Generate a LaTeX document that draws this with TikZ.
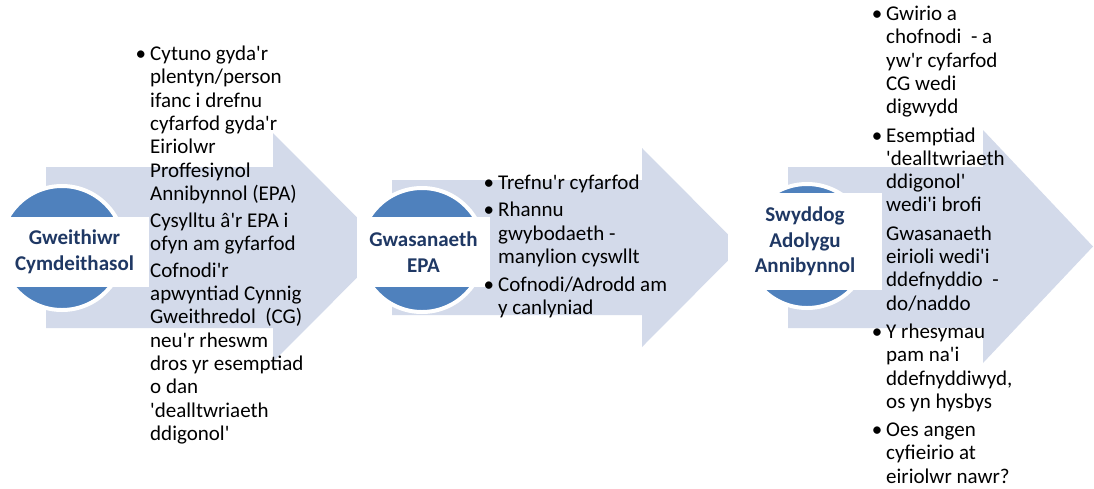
\documentclass[tikz,border=0pt]{standalone}
\usepackage{fontspec}
\setmainfont{Carlito}[Ligatures=TeXOff]

\definecolor{arrowfill}{HTML}{D3DAEA}
\definecolor{discblue}{HTML}{4F81BD}
\definecolor{labelnavy}{HTML}{1F3864}
\newcommand{\bul}{\llap{\textbullet\hspace{4pt}}}

\begin{document}
\begin{tikzpicture}[x=1pt, y=-1pt,
  disc/.style={circle, fill=discblue, draw=white, line width=4pt,
    minimum size=124pt, inner sep=0pt},
  labelbox/.style={fill=white, inner sep=0pt, align=center, text=labelnavy,
    font=\fontsize{21}{25.5}\selectfont\bfseries},
  notes/.style={anchor=north west, inner sep=0pt, align=left,
    font=\fontsize{21}{23.3}\selectfont}]

  \useasboundingbox (0,0) rectangle (1094,488);

  % Draw block arrows
  \foreach \xs/\xh/\st/\sb/\ht/\hb/\tip in {46/273/167/328/133/362/387,
      392/642/180/315/148/347/741, 788/983/167/328/130/363/1093} {
    \fill[arrowfill] (\xs,\st) -- (\xh,\st) -- (\xh,\ht)
      -- (\tip,{(\ht+\hb)/2}) -- (\xh,\hb) -- (\xh,\sb) -- (\xs,\sb) -- cycle;
  }

  % Draw discs
  \node[disc] (swdisc) at (62,248) {};
  \node[disc] (epadisc) at (422,250) {};
  \node[disc] (saadisc) at (807,246) {};

  % Disc labels
  \node[labelbox, minimum width=149pt, minimum height=70pt] (swlabel)
    at (74.5,252) {Gweithiwr\\Cymdeithasol};
  \node[labelbox, minimum width=133pt, minimum height=70pt] (epalabel)
    at (423.5,252) {Gwasanaeth\\EPA};
  \node[labelbox, minimum width=154pt, minimum height=97pt] (saalabel)
    at (805,241.5) {Swyddog\\Adolygu\\Annibynnol};

  % Notes
  \node[notes] (swnotes) at (150,44) {\strut\bul Cytuno gyda'r\\
    plentyn/person\\ ifanc i drefnu\\ cyfarfod gyda'r\\ Eiriolwr\\
    Proffesiynol\\ Annibynnol (EPA)\\[3.5pt]
    Cysylltu â'r EPA i\\ ofyn am gyfarfod\\[3.5pt]
    Cofnodi'r\\ apwyntiad Cynnig\\ Gweithredol \ (CG)\\ neu'r rheswm\\
    dros yr esemptiad\\ o dan\\ 'dealltwriaeth\\ ddigonol'};

  \node[notes] (epanotes) at (498,173) {\strut\bul Trefnu'r cyfarfod\\[4pt]
    \bul Rhannu\\ gwybodaeth -\\ manylion cyswllt\\[4.5pt]
    \bul Cofnodi/Adrodd am\\ y canlyniad};

  \node[notes] (saanotes) at (886,4) {\strut\bul Gwirio a\\
    chofnodi \ - a\\ yw'r cyfarfod\\ CG wedi\\ digwydd\\[5pt]
    \bul Esemptiad\\ 'dealltwriaeth\\ ddigonol'\\ wedi'i brofi\\[5pt]
    Gwasanaeth\\ eirioli wedi'i\\ ddefnyddio \ -\\ do/naddo\\[5pt]
    \bul Y rhesymau\\ pam na'i\\ ddefnyddiwyd,\\ os yn hysbys\\[5pt]
    \bul Oes angen\\ cyfieirio at\\ eiriolwr nawr?};
\end{tikzpicture}
\end{document}
